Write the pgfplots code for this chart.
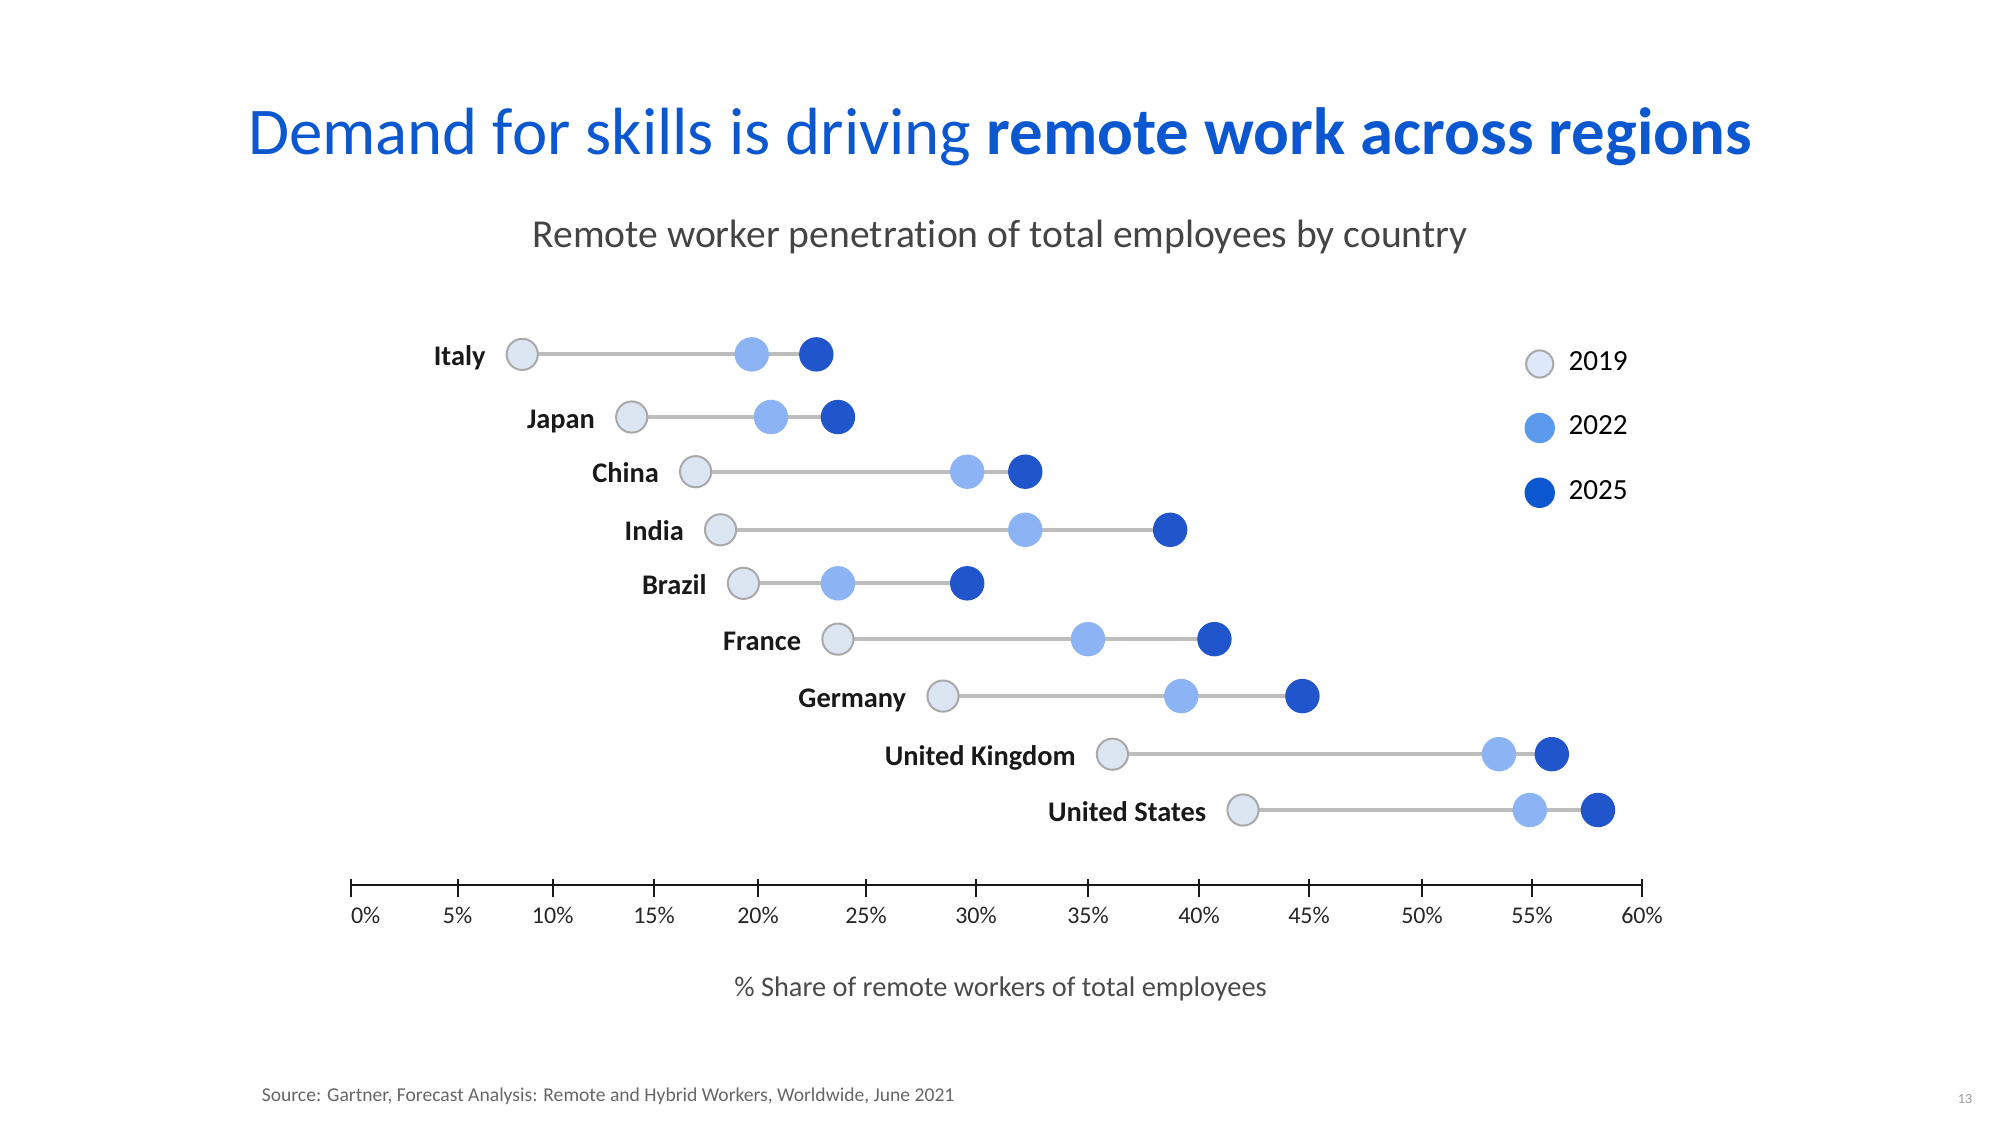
\documentclass[border=0pt]{standalone}
\usepackage{fontspec}
\setmainfont{Carlito}[Ligatures=NoCommon]
\usepackage{pgfplots}
\usepackage{pgfplotstable}
\pgfplotsset{compat=1.18}

\definecolor{titleblue}{HTML}{0B57D0}
\definecolor{subgray}{HTML}{444444}
\definecolor{labgray}{HTML}{4A4A4A}
\definecolor{srcgray}{HTML}{666666}
\definecolor{c19}{HTML}{DCE5F2}
\definecolor{c19b}{HTML}{A9A9A9}
\definecolor{c22}{HTML}{8CB4F5}
\definecolor{c25}{HTML}{2155CC}
\definecolor{l19}{HTML}{DDE8FB}
\definecolor{l22}{HTML}{5B9AEC}
\definecolor{l25}{HTML}{0B57D0}
\definecolor{linegray}{HTML}{BDBDBD}

\pgfplotstableread[col sep=comma]{
country,row,v19,v22,v25
Italy,8,8.4,19.7,22.7
Japan,6.9,13.9,20.6,23.7
China,5.94,17.0,29.6,32.2
India,4.92,18.2,32.2,38.7
Brazil,3.98,19.3,23.7,29.6
France,3,23.7,35.0,40.7
Germany,2,28.5,39.2,44.7
United Kingdom,0.98,36.1,53.5,55.9
United States,0,42.0,54.9,58.0
}\data

\tikzset{countrylabel/.style={anchor=base east, inner sep=0pt, xshift=-9pt, yshift=-2.8pt,
  font=\fontsize{7.1}{8}\selectfont\bfseries, text=black!90}}

\begin{document}
\begin{tikzpicture}
\useasboundingbox (0,0) rectangle (500pt,281.25pt);
\begin{axis}[
  at={(87.75pt,60pt)}, anchor=south west,
  scale only axis, width=322.75pt, height=141.2pt,
  % the printed axis of the slide is slightly uneven: piecewise-linear placement of its ticks
  x coord trafo/.code={\pgfmathparse{21.3*(#1)-2.26*max(0,(#1)-5)+1.22*max(0,(#1)-10)+0.54*max(0,(#1)-15)+0.8*max(0,(#1)-20)+0.4*max(0,(#1)-25)+0.4*max(0,(#1)-30)-0.2*max(0,(#1)-35)-0.2*max(0,(#1)-40)+0.6*max(0,(#1)-45)-0.6*max(0,(#1)-50)}},
  xmin=0, xmax=60, ymin=-1.317, ymax=8.6,
  axis x line*=bottom, axis y line=none, ytick=\empty,
  x axis line style={black!90, line width=0.5pt},
  xtick={0,5,10,15,20,25,30,35,40,45,50,55,60},
  xticklabels={\makebox[0pt][l]{0\%},5\%,10\%,15\%,20\%,25\%,30\%,35\%,40\%,45\%,50\%,55\%,60\%},
  xtick align=center, major tick length=4.5pt,
  x tick style={black!90, line width=0.5pt, yshift=-0.75pt},
  xticklabel style={anchor=center, yshift=-5.4pt, font=\fontsize{6.0}{7}\selectfont, text=black!85},
  /pgf/number format/assume math mode=true,
  xlabel={\% Share of remote workers of total employees},
  xlabel style={at={(axis description cs:0.5,0)}, anchor=base, xshift=1pt, yshift=-27.9pt, font=\fontsize{7.1}{8}\selectfont, text=labgray},
  clip=false,
  legend style={at={(0.909,0.948)}, anchor=north west, draw=none, fill=none, inner sep=0pt,
    font=\fontsize{7.3}{8}\selectfont, row sep=9pt,
    nodes={inner sep=0pt},
    /tikz/every odd column/.append style={column sep=3.6pt}},
  legend cell align=left,
  legend image code/.code={\draw[#1] plot coordinates {(3.6pt,0pt)};},
]
\pgfplotsforeachungrouped \i in {0,...,8}{%
  \pgfplotstablegetelem{\i}{v19}\of\data \let\va\pgfplotsretval
  \pgfplotstablegetelem{\i}{v25}\of\data \let\vb\pgfplotsretval
  \pgfplotstablegetelem{\i}{row}\of\data \let\vr\pgfplotsretval
  \pgfplotstablegetelem{\i}{country}\of\data \let\vc\pgfplotsretval
  \edef\temp{\noexpand\addplot[linegray, line width=1pt, forget plot] coordinates {(\va,\vr) (\vb,\vr)};
    \noexpand\node[countrylabel] at (axis cs:\va,\vr) {\vc};}%
  \temp
}
\addplot[only marks, mark=*, mark size=3.9pt, mark options={fill=c19, draw=c19b, line width=0.5pt}, forget plot] table[x=v19, y=row] {\data};
\addplot[only marks, mark=*, mark size=4.1pt, mark options={fill=c22, draw=c22}, forget plot] table[x=v22, y=row] {\data};
\addplot[only marks, mark=*, mark size=4.1pt, mark options={fill=c25, draw=c25}, forget plot] table[x=v25, y=row] {\data};
\addlegendimage{only marks, mark=*, mark size=3.4pt, mark options={fill=l19, draw=c19b, line width=0.5pt}}
\addlegendentry{2019}
\addlegendimage{only marks, mark=*, mark size=3.6pt, mark options={fill=l22, draw=l22}}
\addlegendentry{2022}
\addlegendimage{only marks, mark=*, mark size=3.6pt, mark options={fill=l25, draw=l25}}
\addlegendentry{2025}
\end{axis}
\node[anchor=base, inner sep=0pt, font=\fontsize{16.7}{19}\selectfont, text=titleblue] at (250pt,242.5pt)
  {Demand for skills is driving \textbf{remote work across regions}};
\node[anchor=base, inner sep=0pt, font=\fontsize{9.9}{11}\selectfont, text=subgray] at (250pt,219.4pt)
  {Remote worker penetration of total employees by country};
\node[anchor=base west, inner sep=0pt, font=\fontsize{4.9}{5.5}\selectfont, text=srcgray] at (65.25pt,6pt)
  {Source: Gartner, Forecast Analysis: Remote and Hybrid Workers, Worldwide, June 2021};
\node[anchor=base, inner sep=0pt, font=\fontsize{3.5}{4}\selectfont, text=black!40] at (491.25pt,5.5pt) {13};
\end{tikzpicture}
\end{document}
